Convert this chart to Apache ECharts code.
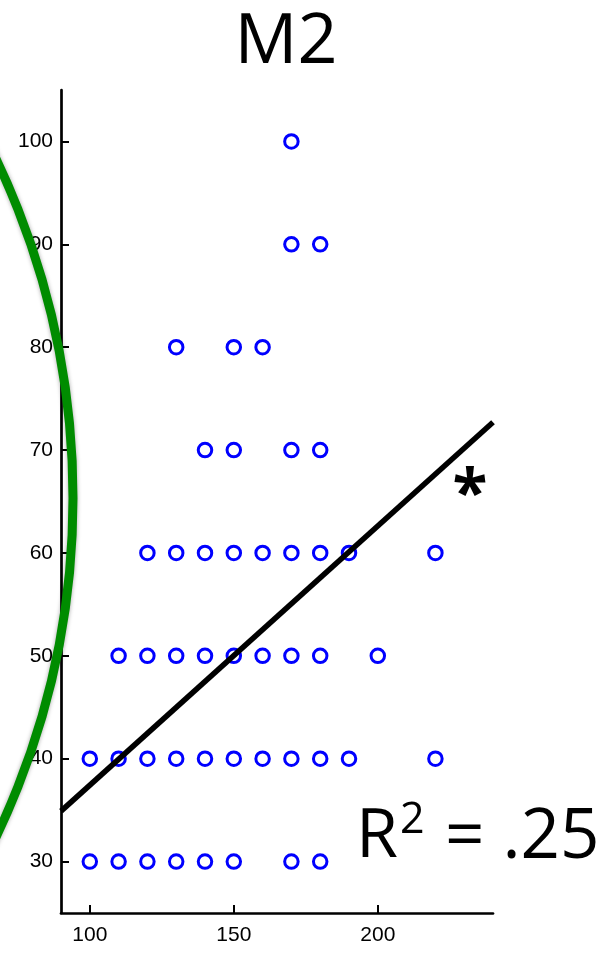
<!DOCTYPE html>
<html>
<head>
<meta charset="utf-8">
<style>
  html, body { margin: 0; padding: 0; background: #fff; }
  #chart { width: 614px; height: 955px; }
</style>
<script src="https://cdn.jsdelivr.net/npm/echarts@6/dist/echarts.min.js"></script>
</head>
<body>
<div id="chart"></div>
<script>
// ---- Data ----
const titleText = 'M2';
// Each row: y value and the x values of the points at that y
const rowY = [100, 90, 80, 70, 60, 50, 40, 30];
const rowX100 = [170];
const rowX90 = [170, 180];
const rowX80 = [130, 150, 160];
const rowX70 = [140, 150, 170, 180];
const rowX60 = [120, 130, 140, 150, 160, 170, 180, 190, 220];
const rowX50 = [110, 120, 130, 140, 150, 160, 170, 180, 200];
const rowX40 = [100, 110, 120, 130, 140, 150, 160, 170, 180, 190, 220];
const rowX30 = [100, 110, 120, 130, 140, 150, 170, 180];
// Regression line endpoints
const fitX = [90, 240];
const fitY = [34.9, 72.7];
// Axis ticks
const xTicks = [100, 150, 200];
const yTicks = [30, 40, 50, 60, 70, 80, 90, 100];
const rSquaredText = '= .25';

// ---- Build ----
const rows = [rowX100, rowX90, rowX80, rowX70, rowX60, rowX50, rowX40, rowX30];
const scatterData = [];
rows.forEach((xs, i) => xs.forEach(x => scatterData.push([x, rowY[i]])));
const fitData = fitX.map((x, i) => [x, fitY[i]]);

const chart = echarts.init(document.getElementById('chart'), null, { renderer: 'canvas' });
const labelFont = '"Liberation Sans", Arial, Helvetica, sans-serif';
const bigFont = '"Open Sans", Lato, sans-serif';

chart.setOption({
  animation: false,
  backgroundColor: '#ffffff',
  grid: { left: 61, top: 90, width: 432, height: 823, containLabel: false },
  xAxis: {
    type: 'value', min: 90, max: 240,
    axisLine: { show: true, onZero: false, lineStyle: { color: '#000', width: 2.7 } },
    axisTick: { show: true, inside: true, length: 8, customValues: xTicks, lineStyle: { color: '#000', width: 2 } },
    axisLabel: { show: true, customValues: xTicks, margin: 12, fontSize: 21, color: '#000', fontFamily: labelFont },
    splitLine: { show: false }
  },
  yAxis: {
    type: 'value', min: 25, max: 105,
    axisLine: { show: true, onZero: false, lineStyle: { color: '#000', width: 2.7 } },
    axisTick: { show: true, inside: true, length: 8, customValues: yTicks, lineStyle: { color: '#000', width: 2 } },
    axisLabel: { show: true, customValues: yTicks, margin: 8, fontSize: 21, color: '#000', fontFamily: labelFont },
    splitLine: { show: false }
  },
  series: [
    {
      type: 'scatter',
      data: scatterData,
      symbol: 'circle',
      symbolSize: 13.5,
      itemStyle: { color: 'rgba(0,0,0,0)', borderColor: '#0000ff', borderWidth: 3, opacity: 1 },
      z: 2
    },
    {
      type: 'line',
      data: fitData,
      showSymbol: false,
      symbol: 'none',
      lineStyle: { color: '#000', width: 5.5 },
      z: 3
    }
  ],
  graphic: [
    {
      type: 'circle',
      shape: { cx: -712, cy: 498, r: 785 },
      style: { fill: 'none', stroke: '#008c00', lineWidth: 9, shadowBlur: 4, shadowColor: 'rgba(0,0,0,0.35)' },
      z: 10, silent: true
    },
    {
      type: 'text', x: 286, y: 43,
      style: { text: titleText, font: '70px ' + bigFont, fill: '#000', textAlign: 'center', textVerticalAlign: 'middle' },
      z: 20
    },
    {
      type: 'text', x: 356, y: 838,
      style: { text: 'R', font: '68px ' + bigFont, fill: '#000', textAlign: 'left', textVerticalAlign: 'middle' },
      z: 20
    },
    {
      type: 'text', x: 400, y: 821,
      style: { text: '2', font: '43px ' + bigFont, fill: '#000', textAlign: 'left', textVerticalAlign: 'middle' },
      z: 20
    },
    {
      type: 'text', x: 445, y: 838,
      style: { text: rSquaredText, font: '69px ' + bigFont, fill: '#000', textAlign: 'left', textVerticalAlign: 'middle' },
      z: 20
    },
    {
      type: 'text', x: 470, y: 497,
      style: { text: '*', font: 'bold 64px ' + bigFont, fill: '#000', textAlign: 'center', textVerticalAlign: 'middle' },
      z: 20
    }
  ]
});
</script>
</body>
</html>
